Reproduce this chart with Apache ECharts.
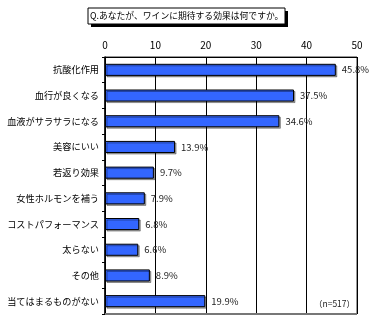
<!DOCTYPE html>
<html><head><meta charset="utf-8">
<script src="https://cdn.jsdelivr.net/npm/echarts@6/dist/echarts.min.js"></script>
<style>html,body{margin:0;padding:0;background:#fff}#c{width:371px;height:329px}</style>
</head><body><div id="c"></div>
<script>
const categories = ['抗酸化作用','血行が良くなる','血液がサラサラになる','美容にいい','若返り効果','女性ホルモンを補う','コストパフォーマンス','太らない','その他','当てはまるものがない'];
const values = [45.8, 37.5, 34.6, 13.9, 9.7, 7.9, 6.8, 6.6, 8.9, 19.9];
const xTicks = [0, 10, 20, 30, 40, 50];
const titleText = 'Q.あなたが、ワインに期待する効果は何ですか。';
const noteText = '（n=517）';
const font = '"Noto Sans CJK JP", sans-serif';
const chart = echarts.init(document.getElementById('c'), null, {renderer:'canvas'});
chart.setOption({
  animation: false,
  backgroundColor: '#fff',
  grid: {left: 105, right: 14, top: 57, bottom: 15, containLabel: false, outerBoundsMode: 'none',
    show: true, borderColor: '#333', borderWidth: 1},
  xAxis: {
    type: 'value', position: 'top', min: xTicks[0], max: xTicks[xTicks.length-1], interval: 10,
    axisLine: {show: true, lineStyle: {color: '#000'}},
    axisTick: {show: false},
    axisLabel: {color: '#000', fontSize: 10, fontFamily: font, margin: 7},
    splitLine: {show: true, lineStyle: {color: '#000', width: 1}}
  },
  yAxis: {
    type: 'category', data: categories, inverse: true,
    axisLine: {show: true, lineStyle: {color: '#000', width: 1.5}},
    axisTick: {show: true, length: 3, inside: false, lineStyle: {color: '#000'}},
    axisLabel: {color: '#000', fontSize: 9.2, fontFamily: font, margin: 6}
  },
  series: [{
    type: 'bar', data: values, barWidth: '47%',
    itemStyle: {color: '#3366FF', borderColor: '#000', borderWidth: 1,
      shadowColor: 'rgba(0,0,0,0.35)', shadowOffsetX: 1.5, shadowOffsetY: 1.5, shadowBlur: 0},
    label: {show: true, position: 'right', distance: 6, formatter: p => p.value.toFixed(1) + '%',
      color: '#222', fontSize: 9.5, fontFamily: font}
  }],
  graphic: [
    {type: 'rect', shape: {x: 91, y: 11, width: 197, height: 16}, style: {fill: '#000'}, z: 10},
    {type: 'rect', shape: {x: 88, y: 8, width: 197, height: 16}, style: {fill: '#fff', stroke: '#000', lineWidth: 1}, z: 11},
    {type: 'text', x: 90, y: 16, style: {text: titleText, fill: '#000', font: '8.8px ' + font, verticalAlign: 'middle'}, z: 12},
    {type: 'line', shape: {x1: 105, y1: 314, x2: 357, y2: 314}, style: {stroke: '#777', lineWidth: 2}, z: 12},
    {type: 'text', x: 314, y: 304, style: {text: noteText, fill: '#222', font: '8.5px ' + font, verticalAlign: 'middle'}, z: 12}
  ]
});
</script></body></html>
